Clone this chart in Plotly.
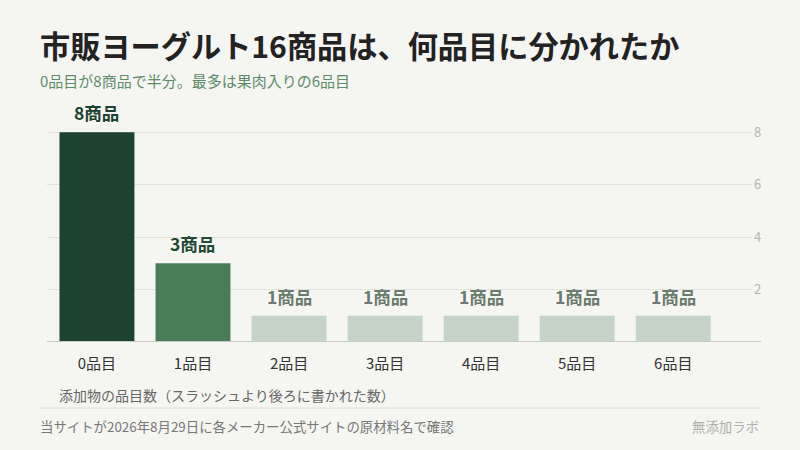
import plotly.graph_objects as go

# 添加物の品目数ごとの商品数
categories = ["0品目", "1品目", "2品目", "3品目", "4品目", "5品目", "6品目"]
counts = [8, 3, 1, 1, 1, 1, 1]
bar_labels = ["8商品", "3商品", "1商品", "1商品", "1商品", "1商品", "1商品"]
bar_colors = ["#1c4330", "#4a7c5a"] + ["#c5d3c8"] * 5
label_colors = ["#1c4330", "#1f4a34"] + ["#6b7b6e"] * 5
y_ticks = [2, 4, 6, 8]

FONT = "Noto Sans CJK JP"
BG = "#f5f5f2"

fig = go.Figure(
    go.Bar(
        x=categories,
        y=counts,
        width=0.78,
        marker=dict(color=bar_colors, line=dict(width=0)),
        hoverinfo="skip",
    )
)

# value labels above each bar
for cat, val, lab, col in zip(categories, counts, bar_labels, label_colors):
    fig.add_annotation(
        x=cat, y=val, text=f"<b>{lab}</b>", showarrow=False,
        yanchor="bottom", yshift=5,
        font=dict(family=FONT, size=17.5, color=col),
    )

fig.update_xaxes(
    range=[-0.52, 6.82],
    showgrid=False,
    showline=False,
    ticks="",
    tickfont=dict(family=FONT, size=15, color="#333333"),
    ticklabelstandoff=11,
)
fig.update_yaxes(
    range=[0, 9],
    tickvals=y_ticks,
    side="right",
    showgrid=True,
    gridcolor="#e0e0dc",
    gridwidth=1,
    zeroline=False,
    showline=False,
    ticks="",
    ticklabelstandoff=1,
    tickfont=dict(family=FONT, size=13, color="#b5b5b0"),
)

# baseline
fig.add_shape(type="line", xref="paper", yref="y", x0=0, x1=1.0128, y0=0, y1=0,
              line=dict(color="#c8c8c4", width=2))
# footer separator
fig.add_shape(type="line", xref="paper", yref="paper", x0=-0.0099, x1=1.0128,
              y0=-0.28, y1=-0.28, line=dict(color="#dcdcd8", width=1))

# title / subtitle
fig.add_annotation(
    xref="paper", yref="paper", x=-0.0125, y=1.0, yshift=61, xanchor="left", yanchor="middle",
    text="<b>市販ヨーグルト16商品は、何品目に分かれたか</b>", showarrow=False,
    font=dict(family=FONT, size=30.2, color="#222222"),
)
fig.add_annotation(
    xref="paper", yref="paper", x=-0.0125, y=1.0, yshift=26, xanchor="left", yanchor="middle",
    text="0品目が8商品で半分。最多は果肉入りの6品目", showarrow=False,
    font=dict(family=FONT, size=15, color="#5e8c69"),
)
# x-axis title
fig.add_annotation(
    xref="paper", yref="paper", x=0.0142, y=0, yshift=-53, xanchor="left", yanchor="middle",
    text="添加物の品目数（スラッシュより後ろに書かれた数）", showarrow=False,
    font=dict(family=FONT, size=14, color="#666666"),
)
# footer
fig.add_annotation(
    xref="paper", yref="paper", x=-0.0125, y=0, yshift=-84, xanchor="left", yanchor="middle",
    text="当サイトが2026年8月29日に各メーカー公式サイトの原材料名で確認", showarrow=False,
    font=dict(family=FONT, size=13.4, color="#777777"),
)
fig.add_annotation(
    xref="paper", yref="paper", x=1.0128, y=0, yshift=-84, xanchor="right", yanchor="middle",
    text="無添加ラボ", showarrow=False,
    font=dict(family=FONT, size=13.4, color="#b0b0ac"),
)

fig.update_layout(
    width=800,
    height=450,
    margin=dict(l=47, r=48, t=106, b=108),
    paper_bgcolor=BG,
    plot_bgcolor=BG,
    showlegend=False,
    bargap=0.2,
    font=dict(family=FONT),
)

# page without the default body margin, same background as the figure
page_css = (
    "document.body.style.margin='0';"
    f"document.body.style.background='{BG}';"
)
fig.write_html("out.html", post_script=page_css, config={"displayModeBar": False})
